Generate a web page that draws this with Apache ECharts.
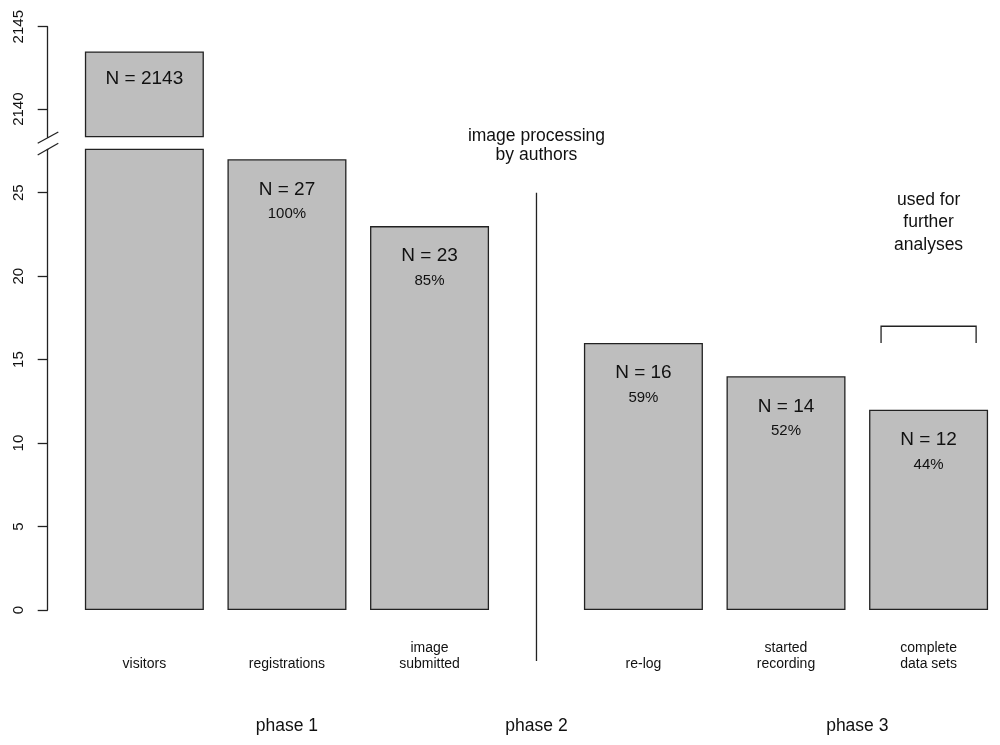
<!DOCTYPE html>
<html>
<head>
<meta charset="utf-8">
<script src="https://cdn.jsdelivr.net/npm/echarts@6/dist/echarts.min.js"></script>
<style>
  html, body { margin: 0; padding: 0; background: #fff; }
  #main { width: 1000px; height: 745px; }
</style>
</head>
<body>
<div id="main"></div>
<script>
var FONT = '"Liberation Sans", Arial, sans-serif';

// data
var categories = ['visitors', 'registrations', 'image\nsubmitted', 're-log', 'started\nrecording', 'complete\ndata sets'];
var barPositions = [0.7, 1.9, 3.1, 4.9, 6.1, 7.3];
var barHeights = [2143.5, 27, 23, 16, 14, 12];
var countLabels = [2143, 27, 23, 16, 14, 12];
var percentLabels = ['', '100%', '85%', '59%', '52%', '44%'];
var lowerTicks = [0, 5, 10, 15, 20, 25];
var upperTicks = [2140, 2145];
var phaseNames = ['phase 1', 'phase 2', 'phase 3'];
var phasePositions = [1.9, 4.0, 6.7];

var upperMin = 2138.33;
var lowerMax = 27.6;
var xMin = -0.1136;
var xMax = 7.8;

function yAxisFor(gridIndex, min, max, ticks) {
    return {
        type: 'value',
        gridIndex: gridIndex,
        min: min,
        max: max,
        splitLine: { show: false },
        axisLine: { show: true, onZero: false, lineStyle: { color: '#222', width: 1.3 } },
        axisTick: { show: true, length: 10, customValues: ticks, lineStyle: { color: '#222', width: 1.3 } },
        axisLabel: {
            customValues: ticks, rotate: 90, margin: 21,
            color: '#111', fontSize: 15, fontFamily: FONT,
            formatter: function (v) { return String(v); }
        }
    };
}

function drawChart() {
    var myChart = echarts.init(document.getElementById('main'));

    var upperData = [];
    var lowerData = [];
    for (var i = 0; i < barHeights.length; i++) {
        if (barHeights[i] > upperMin) upperData.push([barPositions[i], barHeights[i], i]);
        lowerData.push([barPositions[i], barHeights[i], i]);
    }

    var barStyle = { color: '#bebebe', borderColor: '#222', borderWidth: 1.3 };
    var richLabel = {
        n: { fontSize: 19, lineHeight: 24, fontFamily: FONT, color: '#111' },
        p: { fontSize: 15, lineHeight: 26, fontFamily: FONT, color: '#111' }
    };

    var option = {
        animation: false,
        backgroundColor: '#fff',
        grid: [
            { left: 47.7, right: 12, top: 26.7, height: 110, outerBoundsMode: 'none' },
            { left: 47.7, right: 12, top: 149.3, height: 460.7, outerBoundsMode: 'none' }
        ],
        xAxis: [
            { type: 'value', gridIndex: 0, min: xMin, max: xMax, show: false },
            {
                type: 'value', gridIndex: 1, min: xMin, max: xMax,
                axisLine: { show: false, onZero: false }, axisTick: { show: false }, splitLine: { show: false },
                axisLabel: {
                    customValues: barPositions,
                    margin: 62,
                    verticalAlign: 'bottom',
                    fontSize: 14, lineHeight: 16, fontFamily: FONT, color: '#111',
                    formatter: function (v) {
                        for (var k = 0; k < barPositions.length; k++) {
                            if (Math.abs(barPositions[k] - v) < 1e-6) return categories[k];
                        }
                        return '';
                    }
                }
            }
        ],
        yAxis: [
            yAxisFor(0, upperMin, 2145, upperTicks),
            yAxisFor(1, 0, lowerMax, lowerTicks)
        ],
        series: [
            {
                type: 'bar', xAxisIndex: 0, yAxisIndex: 0, barWidth: 119, clip: true,
                data: upperData, itemStyle: barStyle,
                label: {
                    show: true, position: 'insideTop', distance: 15, rich: richLabel,
                    formatter: function (p) { return '{n|N = ' + countLabels[p.value[2]] + '}'; }
                }
            },
            {
                type: 'bar', xAxisIndex: 1, yAxisIndex: 1, barWidth: 119, clip: true,
                data: lowerData, itemStyle: barStyle,
                label: {
                    show: true, position: 'insideTop', distance: 18, rich: richLabel,
                    formatter: function (p) {
                        var k = p.value[2];
                        if (barHeights[k] > lowerMax) return '';
                        return '{n|N = ' + countLabels[k] + '}\n{p|' + percentLabels[k] + '}';
                    }
                }
            }
        ]
    };

    myChart.setOption(option);

    // annotations placed through the lower grid's scales
    function px(x, y) { return myChart.convertToPixel({ gridIndex: 1 }, [x, y]); }
    function textStyle(text, lineHeight) {
        return { text: text, fill: '#111', font: '17.5px ' + FONT, align: 'center', verticalAlign: 'middle', lineHeight: lineHeight };
    }
    var lineStyle = { stroke: '#222', lineWidth: 1.3 };
    var elements = [];

    for (var j = 0; j < phaseNames.length; j++) {
        elements.push({ type: 'text', x: px(phasePositions[j], 0)[0], y: 726, style: textStyle(phaseNames[j], 20) });
    }

    var sep = px(4.0, 25);
    elements.push({ type: 'line', shape: { x1: sep[0], y1: sep[1], x2: sep[0], y2: 661 }, style: lineStyle });
    elements.push({ type: 'text', x: sep[0], y: 145.5, style: textStyle('image processing\nby authors', 19.5) });

    var bl = px(6.9, 16), tl = px(6.9, 17), tr = px(7.7, 17), br = px(7.7, 16);
    elements.push({ type: 'polyline', shape: { points: [bl, tl, tr, br] }, style: { stroke: '#222', lineWidth: 1.3, fill: null } });
    elements.push({ type: 'text', x: px(7.3, 0)[0], y: 222.5, style: textStyle('used for\nfurther\nanalyses', 22.5) });

    // axis break marks
    var ax = 47.7;
    elements.push({ type: 'line', shape: { x1: ax, y1: 136.7, x2: ax, y2: 138 }, style: lineStyle });
    elements.push({ type: 'line', shape: { x1: ax, y1: 149.3, x2: ax, y2: 150 }, style: lineStyle });
    elements.push({ type: 'line', shape: { x1: 37.7, y1: 143.3, x2: 58.3, y2: 132 }, style: lineStyle });
    elements.push({ type: 'line', shape: { x1: 37.7, y1: 155, x2: 58.3, y2: 143.3 }, style: lineStyle });

    myChart.setOption({ graphic: { elements: elements } });
}

document.addEventListener('DOMContentLoaded', function () {
    drawChart();
});
</script>
</body>
</html>
